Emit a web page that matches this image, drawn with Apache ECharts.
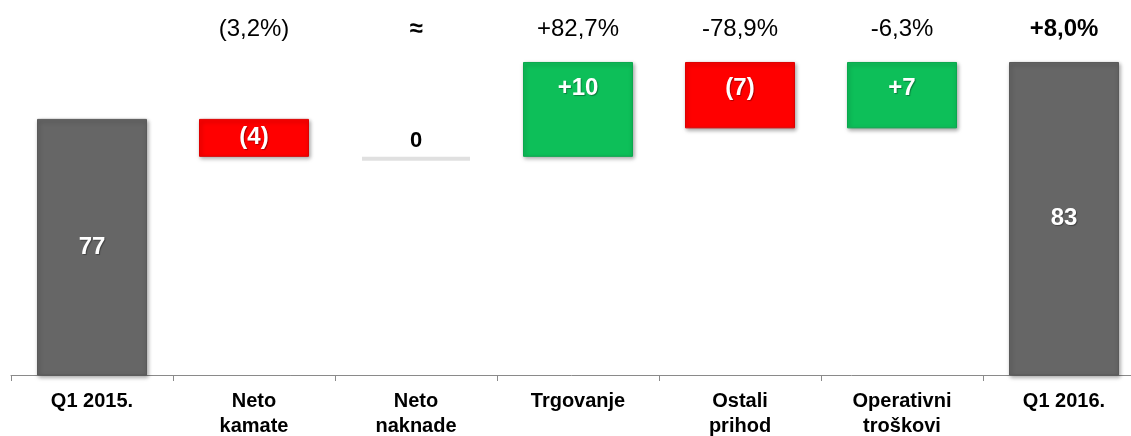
<!DOCTYPE html>
<html><head><meta charset="utf-8">
<script src="https://cdn.jsdelivr.net/npm/echarts@6/dist/echarts.min.js"></script>
<style>html,body{margin:0;padding:0;background:#fff}#c{width:1131px;height:436px}</style>
</head><body><div id="c"></div>
<script>
const categories = ['Q1 2015.', 'Neto\nkamate', 'Neto\nnaknade', 'Trgovanje', 'Ostali\nprihod', 'Operativni\ntroškovi', 'Q1 2016.'];
const startTotal = 77;
const changes = [-4, 0, 10, -7, 7];
const endTotal = 83;
const pctLabels = ['', '(3,2%)', '≈', '+82,7%', '-78,9%', '-6,3%', '+8,0%'];
const axisMin = 50, axisMax = 85;

const n = categories.length;
const totals = new Array(n).fill('-');
totals[0] = startTotal; totals[n - 1] = endTotal;
const base = new Array(n).fill('-');
const up = new Array(n).fill('-');
const down = new Array(n).fill('-');
const zeroMarks = [];
let run = startTotal;
changes.forEach((c, i) => {
  const k = i + 1;
  const lo = Math.min(run, run + c);
  base[k] = lo;
  if (c > 0) up[k] = c;
  else if (c < 0) down[k] = -c;
  else zeroMarks.push([k, run]);
  run += c;
});

const fmt = v => v > 0 ? '+' + v : '(' + (-v) + ')';
const shadow = { shadowBlur: 4, shadowColor: 'rgba(0,0,0,0.35)', shadowOffsetX: 1, shadowOffsetY: 2 };
const FONT = 'Liberation Sans';

function changeItems(arr, sign) {
  return arr.map(v => {
    if (v === '-') return '-';
    const small = v < 5;
    return {
      value: v,
      label: {
        show: true,
        formatter: () => fmt(sign * v),
        position: small ? 'inside' : 'insideTop',
        distance: 14
      }
    };
  });
}

const barLabel = { color: '#fff', fontFamily: FONT, fontWeight: 'bold', fontSize: 24,
  textShadowColor: 'rgba(0,0,0,0.35)', textShadowBlur: 1, textShadowOffsetX: 1, textShadowOffsetY: 1 };

const chart = echarts.init(document.getElementById('c'));
chart.setOption({
  animation: false,
  grid: { left: 11, right: -14, top: 43, bottom: 61, containLabel: false, outerBoundsMode: 'none' },
  xAxis: {
    type: 'category', data: categories,
    axisLine: { lineStyle: { color: '#8a8a8a', width: 1 } },
    axisTick: { show: true, length: 6, lineStyle: { color: '#8a8a8a' } },
    axisLabel: { color: '#000', fontFamily: FONT, fontWeight: 'bold', fontSize: 20, lineHeight: 25, margin: 14, interval: 0 }
  },
  yAxis: { type: 'value', min: axisMin, max: axisMax, show: false, splitLine: { show: false } },
  series: [
    {
      type: 'bar', name: 'total', data: totals, barWidth: 110, barGap: '-100%',
      itemStyle: Object.assign({ color: '#666666', borderColor: '#5a5a5a', borderWidth: 1 }, shadow),
      label: Object.assign({ show: true, position: 'inside' }, barLabel)
    },
    {
      type: 'bar', name: 'base', stack: 'w', data: base, barWidth: 110,
      itemStyle: { color: 'transparent' }, silent: true
    },
    {
      type: 'bar', name: 'up', stack: 'w', data: changeItems(up, 1), barWidth: 110,
      itemStyle: Object.assign({ color: '#0dbf59', borderColor: '#0aa84d', borderWidth: 1 }, shadow),
      label: barLabel
    },
    {
      type: 'bar', name: 'down', stack: 'w', data: changeItems(down, -1), barWidth: 110,
      itemStyle: Object.assign({ color: '#ff0000', borderColor: '#dd0000', borderWidth: 1 }, shadow),
      label: barLabel
    },
    {
      type: 'scatter', name: 'zero', data: zeroMarks, symbol: 'rect', symbolSize: [108, 4], symbolOffset: [0, 2],
      itemStyle: { color: '#e0e0e0', opacity: 1 },
      label: { show: true, position: 'top', distance: 5, formatter: '0', color: '#000',
        fontFamily: FONT, fontWeight: 'bold', fontSize: 22 }
    },
    {
      type: 'scatter', name: 'pct', symbolSize: 0, itemStyle: { opacity: 1 },
      data: pctLabels.map((t, i) => ({
        value: [i, axisMax],
        label: { show: t !== '', formatter: t, color: '#000', fontWeight: (i === n - 1 || t === '≈') ? 'bold' : 'normal' }
      })),
      label: { position: 'top', distance: 2, color: '#000', fontFamily: FONT, fontSize: 24 }
    }
  ]
});
</script></body></html>
